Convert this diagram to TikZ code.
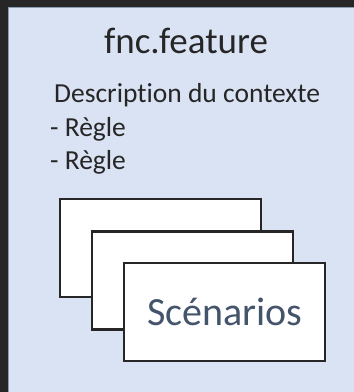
\documentclass[tikz,border=0pt]{standalone}
\usepackage{fontspec}
\setmainfont{Carlito}[Ligatures={NoCommon}]
\definecolor{darkbg}{HTML}{262626}
\definecolor{lightbg}{HTML}{DAE3F3}
\definecolor{edgecol}{HTML}{8C9BB0}
\definecolor{textdark}{HTML}{262626}
\definecolor{scen}{HTML}{44546A}
\begin{document}
\begin{tikzpicture}[x=1pt,y=-1pt,
  card/.style={draw=darkbg, line width=2.5pt, fill=white, inner sep=0pt,
    minimum width=201pt, minimum height=98pt},
  txt/.style={inner sep=0pt, text=textdark}]
\useasboundingbox (0,0) rectangle (354,392);
\fill[darkbg] (0,0) rectangle (354,392);
\fill[lightbg] (8,7) rectangle (356,394);
\draw[edgecol, line width=0.8pt] (8,394) -- (8,7) -- (356,7);
\node[txt, anchor=base, font=\fontsize{37}{44}\selectfont] (title) at (186,53) {fnc.feature};
\node[txt, anchor=base west, font=\fontsize{27.5}{33}\selectfont] (desc) at (54,102) {Description du contexte};
\node[txt, anchor=base west, font=\fontsize{27.5}{33}\selectfont] (rule1) at (50,136) {- Règle};
\node[txt, anchor=base west, font=\fontsize{27.5}{33}\selectfont] (rule2) at (50,169) {- Règle};
\node[card] (s1) at (160.5,248) {};
\node[card] (s2) at (192.5,280.5) {};
\node[card] (s3) at (224.5,312) {};
\node[inner sep=0pt, text=scen, anchor=base, font=\fontsize{40}{48}\selectfont] (scentext) at (225,325) {Scénarios};
\end{tikzpicture}
\end{document}
